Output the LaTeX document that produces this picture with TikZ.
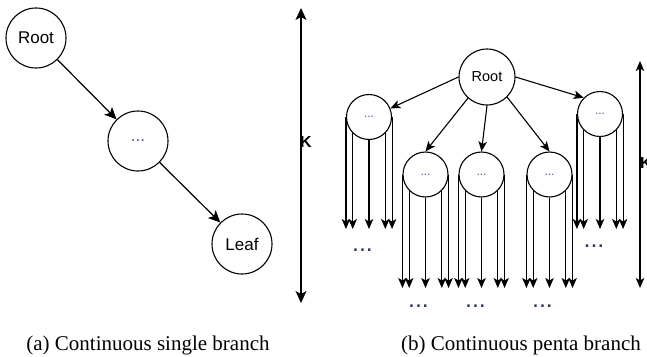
\documentclass[tikz,border=0pt]{standalone}
\usepackage{fontspec}
\setmainfont{Liberation Serif}
\newfontfamily\arialf{Liberation Sans}
\usetikzlibrary{arrows.meta}
\definecolor{dotc}{RGB}{70,85,150}
\definecolor{dotd}{RGB}{45,55,100}
\begin{document}
\begin{tikzpicture}[x=1pt,y=-1pt,
  lnode/.style={circle,draw,line width=1.1pt,minimum size=60pt,inner sep=0pt,font=\arialf\fontsize{17}{20}\selectfont},
  rnode/.style={circle,draw,line width=1.1pt,minimum size=56pt,inner sep=0pt,font=\arialf\fontsize{14.5}{17}\selectfont},
  kid/.style={circle,draw,line width=1.1pt,minimum size=45pt,inner sep=0pt,font=\arialf\fontsize{12}{12}\selectfont,text=dotc},
  barr/.style={line width=1.2pt,-{Stealth[length=12pt,width=11pt,inset=3pt]}},
  darr/.style={line width=1.2pt,{Stealth[length=12pt,width=11pt,inset=3pt]}-{Stealth[length=12pt,width=11pt,inset=3pt]}},
  sarr/.style={line width=1.1pt,-{Stealth[length=10pt,width=8.5pt,inset=2.5pt]}},
  sdarr/.style={line width=1.1pt,{Stealth[length=10pt,width=8.5pt,inset=2.5pt]}-{Stealth[length=10pt,width=8.5pt,inset=2.5pt]}},
  klabel/.style={anchor=west,inner sep=0pt,font=\arialf\bfseries\fontsize{16}{16}\selectfont},
  dots/.style={anchor=base,inner sep=0pt,text=dotd,font=\arialf\fontsize{25}{25}\selectfont},
  caption/.style={anchor=base,inner sep=0pt,font=\fontsize{21}{24}\selectfont}
]
\useasboundingbox (0,0) rectangle (647,356);
% ---------- (a) ----------
\node[lnode] (r) at (36,38) {Root};
\node[lnode,text=dotc] (m) at (138,141) {...};
\node[lnode] (lf) at (242,244) {Leaf};
\draw[barr] (r) -- (m);
\draw[barr] (m) -- (lf);
\coordinate (ka1) at (301,8);
\coordinate (ka2) at (301,303);
\draw[darr] (ka1) -- (ka2);
\node[klabel] (kl) at (300,142) {K};
% ---------- (b) ----------
\node[rnode] (rr) at (487,77) {Root};
\node[kid] (c1) at (369,117) {...};
\node[kid] (c2) at (425.5,174.5) {...};
\node[kid] (c3) at (481.5,174.5) {...};
\node[kid] (c4) at (549.5,174.5) {...};
\node[kid] (c5) at (600,114) {...};
\draw[sarr] (rr.west) -- (c1.22);
\draw[sarr] (rr.east) -- (c5.135);
\draw[sarr] (rr.228) -- (c2.north);
\draw[sarr] (rr.south) -- (c3.north);
\draw[sarr] (rr.315) -- (c4.north);
\coordinate (lvA) at (0,229);
\coordinate (lvB) at (0,288);
\foreach \c/\l in {c1/lvA,c5/lvA,c2/lvB,c3/lvB,c4/lvB}{
  \foreach \a in {west,225,south,315,east}{
    \draw[sarr] (\c.\a) -- (\c.\a |- \l);
  }
}
\node[dots] (d1) at (362.5,251) {...};
\node[dots] (d5) at (594,247) {...};
\node[dots] (d2) at (418.5,307) {...};
\node[dots] (d3) at (475.5,307) {...};
\node[dots] (d4) at (542.5,307) {...};
\coordinate (kb1) at (640,61);
\coordinate (kb2) at (640,288);
\draw[sdarr] (kb1) -- (kb2);
\node[klabel] (kl2) at (640,163) {K};
% ---------- captions ----------
\node[caption] (capa) at (148,350) {(a) Continuous single branch};
\node[caption] (capb) at (521,350) {(b) Continuous penta branch};
\end{tikzpicture}
\end{document}
